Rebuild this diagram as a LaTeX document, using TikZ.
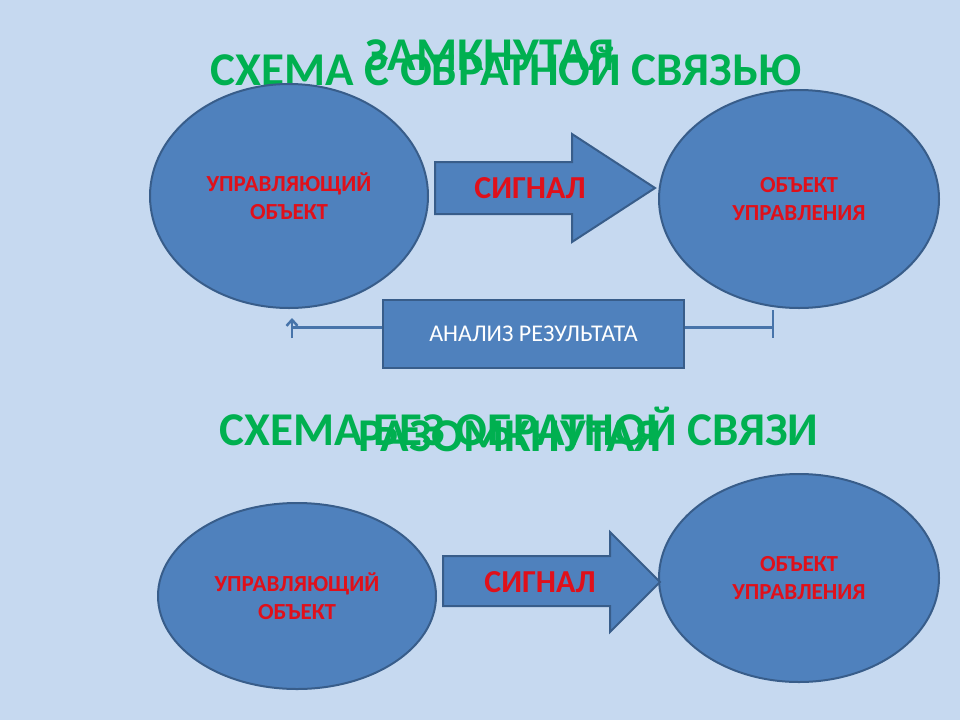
\documentclass[tikz,border=0pt]{standalone}
\usepackage{fontspec}
\setmainfont{Carlito}
\usetikzlibrary{shapes.geometric,arrows.meta}
\definecolor{bg}{HTML}{C6D9F0}
\definecolor{blu}{HTML}{4F81BD}
\definecolor{bdr}{HTML}{385D8A}
\definecolor{grn}{HTML}{00B050}
\definecolor{rd}{HTML}{E0101A}
\begin{document}
\begin{tikzpicture}[x=1pt,y=-1pt,
  obj/.style={ellipse,fill=blu,draw=bdr,line width=2pt,inner sep=0pt},
  lbl/.style={text=rd,font=\bfseries\fontsize{23}{28}\selectfont,align=center},
  title/.style={text=grn,font=\bfseries\fontsize{47}{50}\selectfont},
  sig/.style={text=rd,font=\bfseries\fontsize{32}{34}\selectfont},
  arr/.style={fill=blu,draw=bdr,line width=2pt},
  fb/.style={draw=blu!90!black,line width=3pt}]
\fill[bg] (0,0) rectangle (960,720);
\useasboundingbox (0,0) rectangle (960,720);
% top
\node[title] (t1) at (506,66) {СХЕМА С ОБРАТНОЙ СВЯЗЬЮ};
\node[title] (t1b) at (490,55) {ЗАМКНУТАЯ};
\node[obj,minimum width=278pt,minimum height=224pt] (c1) at (289,196) {};
\node[lbl] at (c1) {УПРАВЛЯЮЩИЙ\\ОБЪЕКТ};
\node[obj,minimum width=280pt,minimum height=218pt] (o1) at (799,199) {};
\node[lbl] at (o1) {ОБЪЕКТ\\УПРАВЛЕНИЯ};
\draw[arr] (435,162) -- (572,162) -- (572,134) -- (655,188) -- (572,242) -- (572,214) -- (435,214) -- cycle;
\node[sig] (s1) at (530,188) {СИГНАЛ};
\node[draw=bdr,fill=blu,line width=2pt,minimum width=301pt,minimum height=68pt,text=white,font=\fontsize{24}{26}\selectfont] (an) at (533.5,334) {АНАЛИЗ РЕЗУЛЬТАТА};
\coordinate (l1) at (292,327);
\coordinate (l2) at (292,318);
\coordinate (r1) at (773,327);
\draw[fb] (an.west|-l1) -- (l1);
\draw[draw=blu!90!black,line width=2.5pt,-{Straight Barb[length=6pt,width=11pt]}] (292,338) -- (l2);
\draw[fb] (an.east|-r1) -- (r1);
\draw[draw=blu!90!black,line width=2.5pt] (773,310) -- (773,338);
% bottom
\node[title] (t2) at (519,426) {СХЕМА БЕЗ ОБРАТНОЙ СВЯЗИ};
\node[title] (t2b) at (510,436) {РАЗОМКНУТАЯ};
\node[obj,minimum width=278pt,minimum height=186pt] (c2) at (297,596) {};
\node[lbl] at (c2) {УПРАВЛЯЮЩИЙ\\ОБЪЕКТ};
\node[obj,minimum width=280pt,minimum height=208pt] (o2) at (799,578) {};
\node[lbl] at (o2) {ОБЪЕКТ\\УПРАВЛЕНИЯ};
\draw[arr] (443,556) -- (610,556) -- (610,532) -- (660,582) -- (610,632) -- (610,606) -- (443,606) -- cycle;
\node[sig] (s2) at (540,582) {СИГНАЛ};
\end{tikzpicture}
\end{document}
